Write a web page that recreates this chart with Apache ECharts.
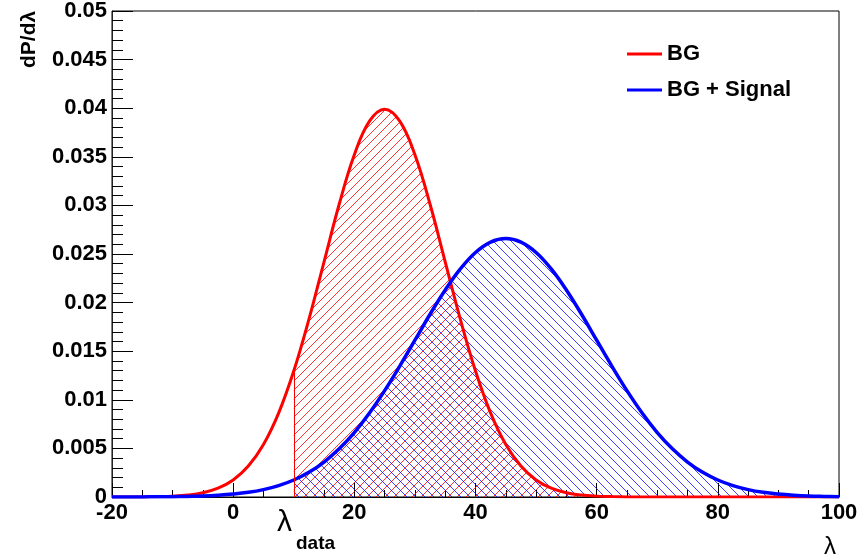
<!DOCTYPE html>
<html>
<head>
<meta charset="utf-8">
<script src="https://cdn.jsdelivr.net/npm/echarts@6.0.0/dist/echarts.min.js"></script>
<style>
  html, body { margin: 0; padding: 0; background: #fff; }
  #chart { width: 861px; height: 555px; }
</style>
</head>
<body>
<div id="chart"></div>
<script>
// lambda values (x), step 2.5
var xs = [-20, -17.5, -15, -12.5, -10, -7.5, -5, -2.5, 0, 2.5, 5, 7.5, 10, 12.5, 15, 17.5,
  20, 22.5, 25, 27.5, 30, 32.5, 35, 37.5, 40, 42.5, 45, 47.5, 50, 52.5, 55, 57.5,
  60, 62.5, 65, 67.5, 70, 72.5, 75, 77.5, 80, 82.5, 85, 87.5, 90, 92.5, 95, 97.5, 100];

// dP/dlambda, background only
var bg = [0, 0, 0.00001, 0.00004, 0.00009, 0.0002, 0.00044, 0.00091, 0.00175, 0.00318,
  0.0054, 0.00863, 0.01296, 0.01827, 0.0242, 0.03012, 0.03521, 0.03867, 0.0399, 0.03867,
  0.03521, 0.03012, 0.0242, 0.01827, 0.01296, 0.00863, 0.0054, 0.00318, 0.00175, 0.00091,
  0.00044, 0.0002, 0.00009, 0.00004, 0.00001, 0, 0, 0, 0, 0, 0, 0, 0, 0, 0, 0, 0, 0, 0];

// dP/dlambda, background + signal
var bgSig = [0, 0.00001, 0.00001, 0.00002, 0.00003, 0.00006, 0.0001, 0.00018, 0.0003, 0.00048,
  0.00076, 0.00117, 0.00175, 0.00254, 0.0036, 0.00496, 0.00663, 0.00864, 0.01094, 0.01347,
  0.01613, 0.0188, 0.0213, 0.02347, 0.02516, 0.02623, 0.0266, 0.02623, 0.02516, 0.02347,
  0.0213, 0.0188, 0.01613, 0.01347, 0.01094, 0.00864, 0.00663, 0.00496, 0.0036, 0.00254,
  0.00175, 0.00117, 0.00076, 0.00048, 0.0003, 0.00018, 0.0001, 0.00006, 0.00003];

var lambdaData = 10;
var names = ['BG', 'BG + Signal'];

function hatch(color, up) {
  var s = 9;
  var c = document.createElement('canvas');
  c.width = s; c.height = s;
  var g = c.getContext('2d');
  g.strokeStyle = color;
  g.lineWidth = 1;
  g.beginPath();
  if (up) {
    g.moveTo(0, s); g.lineTo(s, 0);
    g.moveTo(-1, 1); g.lineTo(1, -1);
    g.moveTo(s - 1, s + 1); g.lineTo(s + 1, s - 1);
  } else {
    g.moveTo(0, 0); g.lineTo(s, s);
    g.moveTo(-1, s - 1); g.lineTo(1, s + 1);
    g.moveTo(s - 1, -1); g.lineTo(s + 1, 1);
  }
  g.stroke();
  return c;
}

function pairs(ys) {
  return xs.map(function (x, i) { return [x, ys[i]]; });
}
function tail(ys) {
  return pairs(ys).filter(function (p) { return p[0] >= lambdaData; });
}

var bgAtData = bg[xs.indexOf(lambdaData)];
var font = '"Liberation Sans", Arial, sans-serif';

var chart = echarts.init(document.getElementById('chart'));
var option = {
  animation: false,
  grid: { left: 112, right: 22, top: 6, bottom: 58, show: true, borderColor: '#000', borderWidth: 1 },
  legend: {
    data: names,
    orient: 'vertical',
    left: 622,
    top: 38,
    itemWidth: 35,
    itemHeight: 3,
    itemGap: 14,
    icon: 'rect',
    textStyle: { fontFamily: font, fontWeight: 'bold', fontSize: 22, lineHeight: 22, color: '#000' }
  },
  xAxis: {
    type: 'value', min: -20, max: 100, interval: 20,
    axisLine: { onZero: false, lineStyle: { color: '#000', width: 1 } },
    axisTick: { inside: true, length: 14, lineStyle: { color: '#000' } },
    minorTick: { show: true, splitNumber: 4, length: 7, lineStyle: { color: '#000' } },
    splitLine: { show: false },
    axisLabel: { fontFamily: font, fontWeight: 'bold', fontSize: 22, color: '#000', margin: 5 }
  },
  yAxis: {
    type: 'value', min: 0, max: 0.05, interval: 0.005,
    axisLine: { show: true, onZero: false, lineStyle: { color: '#222', width: 1 } },
    axisTick: { show: true, inside: true, length: 21, lineStyle: { color: '#000' } },
    minorTick: { show: true, splitNumber: 5, length: 11, lineStyle: { color: '#000' } },
    splitLine: { show: false },
    axisLabel: {
      fontFamily: font, fontWeight: 'bold', fontSize: 22, color: '#000', margin: 5,
      formatter: function (v) { return String(+v.toFixed(3)); }
    }
  },
  graphic: [
    { type: 'text', x: 29, y: 68, rotation: Math.PI / 2,
      style: { text: 'dP/dλ', fontFamily: font, fontWeight: 'bold', fontSize: 21, fill: '#000', align: 'left', verticalAlign: 'middle' } },
    { type: 'text', x: 824, y: 547,
      style: { text: 'λ', fontFamily: font, fontSize: 24, fill: '#000', align: 'left', verticalAlign: 'middle' } },
    { type: 'text', x: 277, y: 523,
      style: { text: 'λ', fontFamily: font, fontSize: 30, fill: '#000', align: 'left', verticalAlign: 'middle' } },
    { type: 'text', x: 296, y: 544,
      style: { text: 'data', fontFamily: font, fontWeight: 'bold', fontSize: 19, fill: '#000', align: 'left', verticalAlign: 'middle' } }
  ],
  series: [
    {
      name: 'BG hatch', type: 'line', data: tail(bg), smooth: 0.4, symbol: 'none',
      lineStyle: { width: 0 }, silent: true,
      areaStyle: { color: { image: hatch('rgba(255,0,0,0.8)', true), repeat: 'repeat' }, opacity: 1 },
      markLine: {
        silent: true, symbol: 'none', label: { show: false },
        lineStyle: { color: '#ff0000', width: 1, type: 'solid' },
        data: [[{ coord: [lambdaData, 0] }, { coord: [lambdaData, bgAtData] }]]
      }
    },
    {
      name: 'BG + Signal hatch', type: 'line', data: tail(bgSig), smooth: 0.4, symbol: 'none',
      lineStyle: { width: 0 }, silent: true,
      areaStyle: { color: { image: hatch('rgba(0,0,255,0.75)', false), repeat: 'repeat' }, opacity: 1 }
    },
    {
      name: names[0], type: 'line', data: pairs(bg), smooth: 0.4, symbol: 'none',
      color: '#ff0000', lineStyle: { color: '#ff0000', width: 3 }
    },
    {
      name: names[1], type: 'line', data: pairs(bgSig), smooth: 0.4, symbol: 'none',
      color: '#0000ff', lineStyle: { color: '#0000ff', width: 3.5 }
    }
  ]
};
chart.setOption(option);
</script>
</body>
</html>
